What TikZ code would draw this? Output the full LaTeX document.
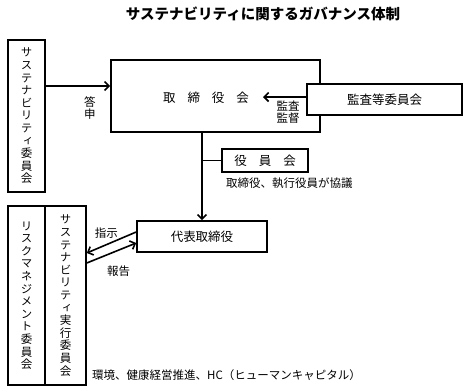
\documentclass[tikz,border=0pt]{standalone}
\usepackage{fontspec}
\setmainfont{Noto Sans CJK JP}
\newfontfamily\vfont[RawFeature=+vert]{Noto Sans CJK JP}
\usetikzlibrary{arrows.meta}
\tikzset{
  box/.style={draw, line width=1.6pt, fill=white, rectangle, inner sep=0pt},
  vtext/.style={font=\vfont\fontsize{11.5}{12.6}\selectfont, align=center, inner sep=0pt},
  lbl/.style={font=\fontsize{11.5}{12.6}\selectfont, inner sep=0pt, align=center},
  boxtxt/.style={font=\fontsize{12.5}{14}\selectfont},
  arr/.style={line width=1.6pt, -{Straight Barb[length=4.5pt,width=9pt,line width=1.6pt]}},
  conn/.style={line width=1.6pt}
}
\begin{document}
\begin{tikzpicture}[x=1pt,y=-1pt]
\useasboundingbox (0,0) rectangle (467,391);
% title
\node[font=\fontsize{14.5}{16}\selectfont\bfseries, inner sep=0pt] (title) at (263,14) {サステナビリティに関するガバナンス体制};
% boxes
\node[box, minimum width=37pt, minimum height=152pt, vtext] (sc) at (26.5,116)
  {サ\\ス\\テ\\ナ\\ビ\\リ\\テ\\ィ\\委\\員\\会};
\node[box, minimum width=209pt, minimum height=72pt] (board) at (215.5,96) {};
\node[boxtxt, inner sep=0pt] (boardlbl) at (206,98) {取\hspace{12pt}締\hspace{12pt}役\hspace{12pt}会};
\node[box, minimum width=155pt, minimum height=31pt, boxtxt] (audit) at (384.5,99.5) {監査等委員会};
\node[box, minimum width=86pt, minimum height=23pt, boxtxt] (yaku) at (265,160.5) {役\hspace{12pt}員\hspace{12pt}会};
\node[box, minimum width=130pt, minimum height=31pt, boxtxt] (rep) at (202,236.5) {代表取締役};
\node[box, minimum width=37pt, minimum height=179pt, vtext] (risk) at (26.5,295.5)
  {リ\\ス\\ク\\マ\\ネ\\ジ\\メ\\ン\\ト\\委\\員\\会};
\node[box, minimum width=41pt, minimum height=179pt, vtext] (exec) at (65.5,295.5)
  {サ\\ス\\テ\\ナ\\ビ\\リ\\テ\\ィ\\実\\行\\委\\員\\会};
% labels
\node[vtext] (toshin) at (90,108) {答\\申};
\node[lbl] (kansa) at (288,112) {監査\\監督};
\node[lbl, anchor=west] (kyogi) at (226,183) {取締役、執行役員が協議};
\node[lbl] (shiji) at (106.5,233) {指示};
\node[lbl] (hokoku) at (118.5,271) {報告};
\node[lbl, anchor=west] (hc) at (92,375) {環境、健康経営推進、HC（ヒューマンキャピタル）};
% connectors
\draw[arr] ([yshift=30pt]sc.east) -- ([yshift=30pt]sc.east -| board.west);
\coordinate (ae) at (263,97);
\draw[arr] (audit.west |- ae) -- (ae);
\draw[arr] (board.south -| rep.north) -- (rep.north);
\draw[conn] (yaku.west -| rep.north) -- (yaku.west);
\draw[arr] ([yshift=4.5pt]rep.west) -- ([yshift=42.5pt]exec.east);
\draw[arr] ([yshift=32.5pt]exec.east) -- ([yshift=-6.5pt]rep.west);
\end{tikzpicture}
\end{document}
